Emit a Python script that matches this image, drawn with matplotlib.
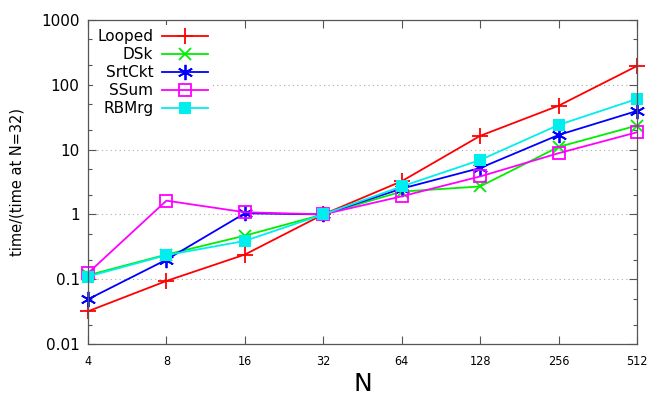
import matplotlib
matplotlib.use("Agg")
import matplotlib.pyplot as plt
from matplotlib.ticker import FixedLocator, FixedFormatter, NullFormatter

# Problem sizes
N = [4, 8, 16, 32, 64, 128, 256, 512]

# time / (time at N=32)
looped = [0.032, 0.094, 0.24, 1.0, 3.25, 16.3, 47.5, 195]
dsk = [0.115, 0.24, 0.47, 1.0, 2.25, 2.7, 11.0, 23.5]
srtckt = [0.049, 0.20, 1.04, 1.0, 2.5, 5.2, 16.8, 39.5]
ssum = [0.124, 1.63, 1.08, 1.0, 1.9, 3.85, 8.8, 18.5]
rbmrg = [0.11, 0.235, 0.39, 1.0, 2.7, 6.9, 24.0, 60.5]

series = [
    ("Looped", looped, "#ff0000", dict(marker="+", ms=11, mew=1.3)),
    ("DSk", dsk, "#00ee00", dict(marker="x", ms=9, mew=1.3)),
    ("SrtCkt", srtckt, "#0000ff", dict(marker=(6, 2, 0), ms=11, mew=1.3)),
    ("SSum", ssum, "#ff00ff", dict(marker="s", ms=9, mfc="none", mew=1.3)),
    ("RBMrg", rbmrg, "#00eeee", dict(marker="s", ms=9, mew=0)),
]

y_ticks = [0.01, 0.1, 1, 10, 100, 1000]
y_labels = ["0.01", "0.1", "1", "10", "100", "1000"]

fig = plt.figure(figsize=(6.64, 3.99), dpi=100)
ax = fig.add_axes([0.1325, 0.1378, 0.8268, 0.8121])

for name, vals, col, mk in series:
    ax.plot(N, vals, color=col, lw=1.3, label=name, clip_on=False, **mk)

ax.set_xscale("log", base=2)
ax.set_yscale("log")
ax.set_xlim(4, 512)
ax.set_ylim(0.01, 1000)

ax.xaxis.set_major_locator(FixedLocator(N))
ax.xaxis.set_major_formatter(FixedFormatter([str(n) for n in N]))
ax.xaxis.set_minor_locator(FixedLocator([]))
ax.yaxis.set_major_locator(FixedLocator(y_ticks))
ax.yaxis.set_major_formatter(FixedFormatter(y_labels))
minor = [m * 10.0 ** e for e in range(-2, 3) for m in (2, 5)]
ax.yaxis.set_minor_locator(FixedLocator(minor))
ax.yaxis.set_minor_formatter(NullFormatter())

ax.tick_params(which="both", direction="in", top=True, right=True, color="#555555")
ax.tick_params(which="major", length=6, width=0.8)
ax.tick_params(which="minor", length=3, width=0.8)
ax.tick_params(axis="y", labelsize=11, pad=6)
ax.tick_params(axis="x", labelsize=9, pad=8)
for lab in ax.get_xticklabels():
    lab.set_family(["Liberation Sans Narrow", "DejaVu Sans"])
    lab.set_fontstretch("condensed")

for s in ax.spines.values():
    s.set_color("#555555")
    s.set_linewidth(0.9)

ax.grid(True, axis="y", which="major", ls=(0, (1, 3)), color="#aaaaaa", lw=0.8)

ax.set_xlabel("N", fontsize=18, labelpad=3)
ax.set_ylabel("time/(time at N=32)", fontsize=10.5, labelpad=12)

leg = ax.legend(loc="upper left", markerfirst=False, fontsize=11, frameon=True,
                handlelength=3.0, handletextpad=0.6, labelspacing=0.2,
                borderaxespad=0.3, borderpad=0.3, fancybox=False)
leg.get_frame().set_edgecolor("none")
leg.get_frame().set_facecolor("white")
leg.get_frame().set_alpha(1.0)

fig.savefig("out.png", dpi=100)
